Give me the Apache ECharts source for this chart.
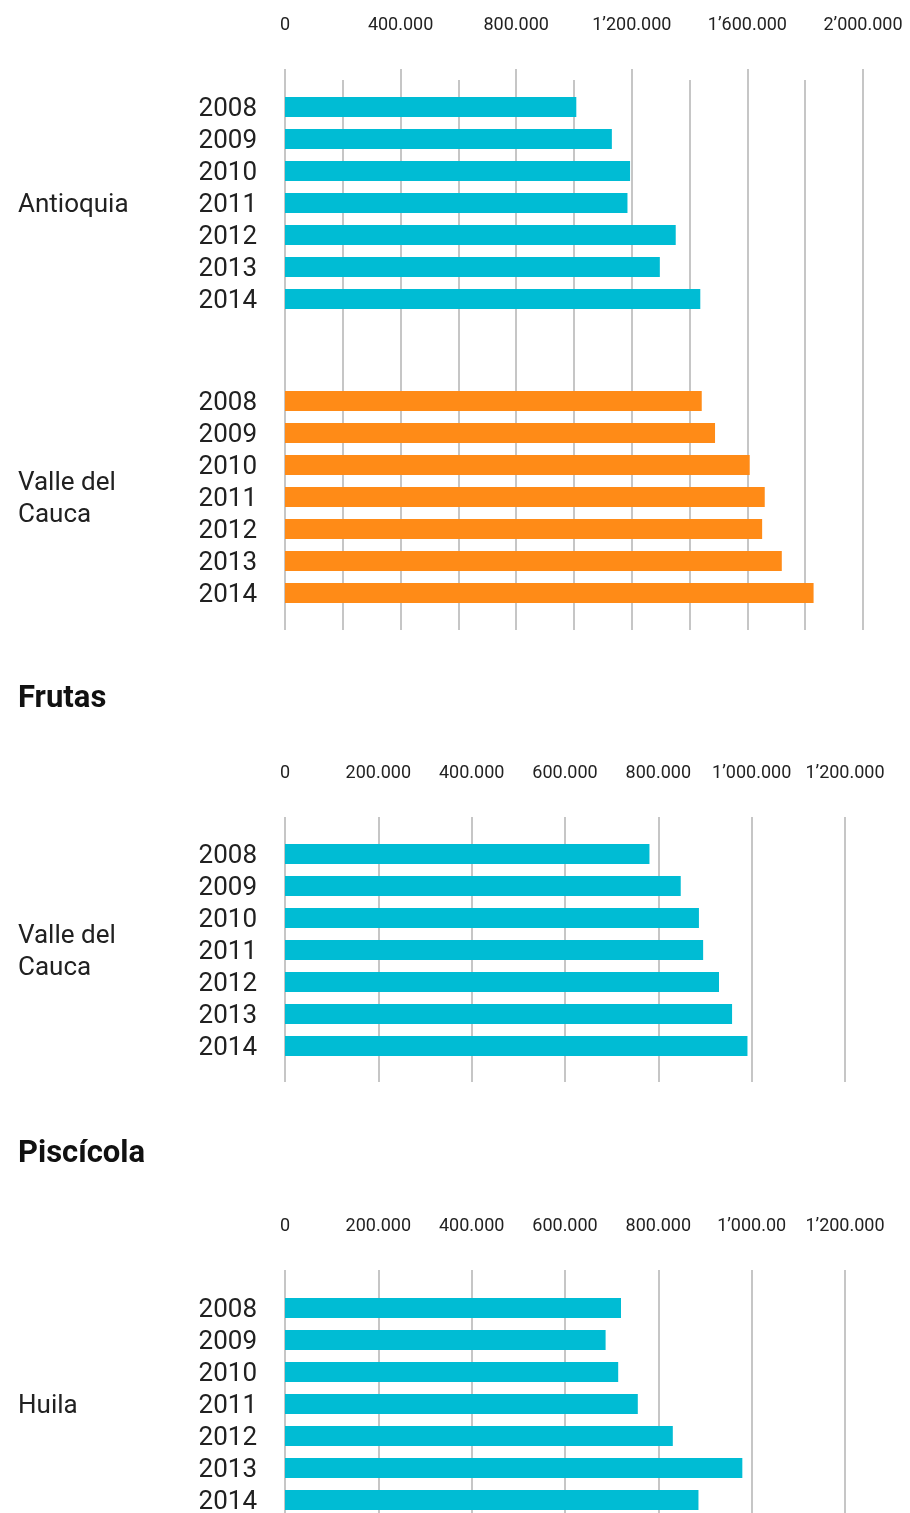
<!DOCTYPE html>
<html>
<head>
<meta charset="utf-8">
<title>Producción por departamento</title>
<script src="https://cdn.jsdelivr.net/npm/echarts@6/dist/echarts.min.js"></script>
<style>
  html, body { margin: 0; padding: 0; background: #fff; }
  #chart { width: 910px; height: 1513px; }
</style>
</head>
<body>
<div id="chart"></div>
<script>
// categorías
var years = ['2008', '2009', '2010', '2011', '2012', '2013', '2014']

// valores
var antioquia = [1008000, 1131000, 1194000, 1185000, 1352000, 1297000, 1437000]
var valleCauca = [1442000, 1488000, 1608000, 1660000, 1651000, 1719000, 1829000]
var frutasValle = [781000, 848000, 887000, 896000, 930000, 958000, 991000]
var pisciHuila = [720000, 687000, 714000, 756000, 831000, 980000, 886000]

// etiquetas de los ejes
var ticksTop = ['0', '400.000', '800.000', '1’200.000', '1’600.000', '2’000.000']
var ticksFrutas = ['0', '200.000', '400.000', '600.000', '800.000', '1’000.000', '1’200.000']
var ticksPisci = ['0', '200.000', '400.000', '600.000', '800.000', '1’000.00', '1’200.000']

var cyan = '#00bcd4'
var orange = '#ff8b17'
var gridColor = '#c6c6c6'
var font = 'Roboto'

var grids = []
var xAxes = []
var yAxes = []
var series = []

function addGrid(top, height, width) {
  grids.push({ left: 285, width: width, top: top, height: height, outerBoundsMode: 'none' })
  return grids.length - 1
}

// rejilla solo con líneas verticales (y etiquetas si las hay)
function addLines(top, height, width, max, interval, labels) {
  var g = addGrid(top, height, width)
  xAxes.push({
    type: 'value',
    gridIndex: g,
    position: 'top',
    min: 0,
    max: max,
    interval: interval,
    axisLine: { show: false },
    axisTick: { show: false },
    splitLine: { show: true, lineStyle: { color: gridColor, width: 2 } },
    axisLabel: {
      show: !!labels,
      margin: 35,
      fontFamily: font,
      fontSize: 18,
      color: '#222',
      hideOverlap: false,
      formatter: function (val) {
        return labels ? labels[Math.round(val / interval)] : ''
      }
    }
  })
  yAxes.push({ type: 'value', gridIndex: g, show: false })
}

// un grupo de barras + sus etiquetas (años y nombre del grupo)
function addGroup(top, width, max, name, data, color) {
  var g = addGrid(top, 224, width)
  xAxes.push({ type: 'value', gridIndex: g, min: 0, max: max, show: false })
  yAxes.push({ type: 'category', gridIndex: g, data: years, inverse: true, show: false })
  series.push({
    type: 'bar',
    xAxisIndex: xAxes.length - 1,
    yAxisIndex: yAxes.length - 1,
    data: data,
    barWidth: 20,
    itemStyle: { color: color },
    silent: true
  })

  // las etiquetas van un poco más abajo que el centro de la barra
  var lg = addGrid(top + 2, 224, width)
  xAxes.push({ type: 'value', gridIndex: lg, min: 0, max: max, show: false })
  yAxes.push({
    type: 'category',
    gridIndex: lg,
    position: 'left',
    data: years,
    inverse: true,
    axisLine: { show: false },
    axisTick: { show: false },
    axisLabel: { interval: 0, margin: 28, fontFamily: font, fontSize: 26, color: '#212121' }
  })
  yAxes.push({
    type: 'category',
    gridIndex: lg,
    position: 'left',
    data: [name],
    axisLine: { show: false },
    axisTick: { show: false },
    axisLabel: {
      interval: 0, margin: 267, align: 'left', lineHeight: 32,
      fontFamily: font, fontSize: 26, color: '#212121'
    }
  })
}

// Bloque superior
addLines(69, 561, 578, 2000000, 400000, ticksTop)
addLines(80, 550, 578, 2000000, 200000, null)
addGroup(91, 578, 2000000, 'Antioquia', antioquia, cyan)
addGroup(385, 578, 2000000, 'Valle del\nCauca', valleCauca, orange)

// Frutas
addLines(817, 265, 560, 1200000, 200000, ticksFrutas)
addGroup(838, 560, 1200000, 'Valle del\nCauca', frutasValle, cyan)

// Piscícola
addLines(1270, 300, 560, 1200000, 200000, ticksPisci)
addGroup(1292, 560, 1200000, 'Huila', pisciHuila, cyan)

var options = {
  animation: false,
  grid: grids,
  xAxis: xAxes,
  yAxis: yAxes,
  series: series,
  graphic: [
    { type: 'text', x: 18, y: 699, style: { text: 'Frutas', font: 'bold 31px Roboto', fill: '#111', verticalAlign: 'middle' } },
    { type: 'text', x: 18, y: 1154, style: { text: 'Piscícola', font: 'bold 31px Roboto', fill: '#111', verticalAlign: 'middle' } }
  ]
}

var chart = echarts.init(document.getElementById('chart'))
chart.setOption(options)
window.addEventListener('resize', function () {
  chart.resize()
})
</script>
</body>
</html>
